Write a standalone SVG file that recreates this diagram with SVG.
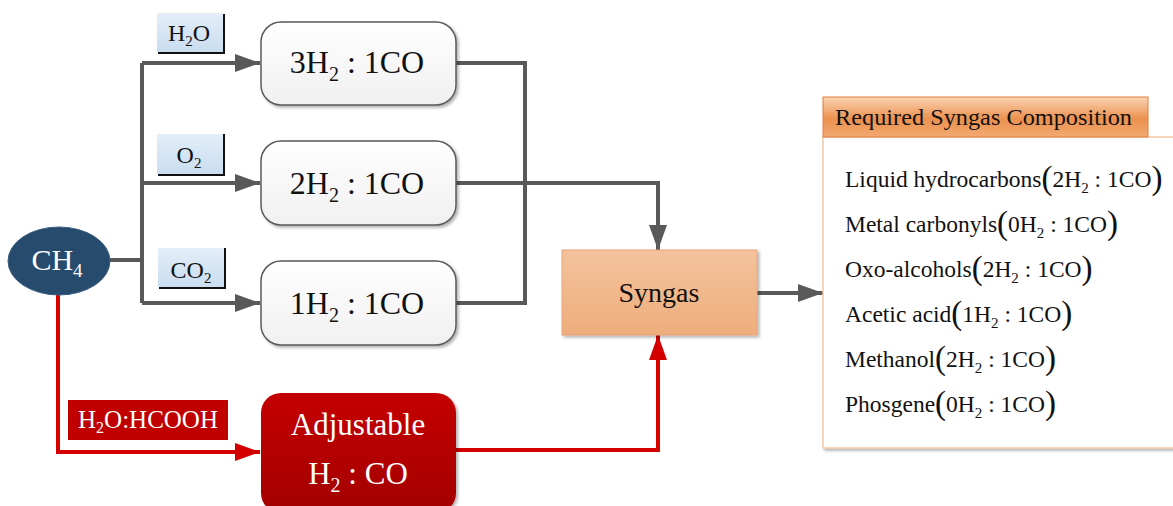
<svg xmlns="http://www.w3.org/2000/svg" width="1173" height="506" viewBox="0 0 1173 506">
<defs>
<linearGradient id="gBox" x1="0" y1="0" x2="0" y2="1"><stop offset="0" stop-color="#ffffff"/><stop offset="1" stop-color="#f0f0f0"/></linearGradient>
<linearGradient id="gLab" x1="0" y1="0" x2="0" y2="1"><stop offset="0" stop-color="#e3eef8"/><stop offset="1" stop-color="#c9ddf0"/></linearGradient>
<linearGradient id="gRed" x1="0" y1="0" x2="0" y2="1"><stop offset="0" stop-color="#c40000"/><stop offset="1" stop-color="#a30000"/></linearGradient>
<linearGradient id="gSyn" x1="0" y1="0" x2="0" y2="1"><stop offset="0" stop-color="#f3c29c"/><stop offset="1" stop-color="#eeae7c"/></linearGradient>
<linearGradient id="gHead" x1="0" y1="0" x2="0" y2="1"><stop offset="0" stop-color="#f9d3b2"/><stop offset="0.55" stop-color="#ec914f"/><stop offset="1" stop-color="#f2a972"/></linearGradient>
<filter id="sh" x="-10%" y="-10%" width="130%" height="130%"><feDropShadow dx="2" dy="2" stdDeviation="1.5" flood-color="#000" flood-opacity="0.3"/></filter>
<marker id="ag" viewBox="0 0 25 18" refX="25" refY="9" markerWidth="25" markerHeight="18" markerUnits="userSpaceOnUse" orient="auto"><path d="M0,0 L25,9 L0,18 Z" fill="#595959"/></marker>
<marker id="ar" viewBox="0 0 25 18" refX="25" refY="9" markerWidth="25" markerHeight="18" markerUnits="userSpaceOnUse" orient="auto"><path d="M0,0 L25,9 L0,18 Z" fill="#d40000"/></marker>
</defs>
<style>
text{font-family:"Liberation Serif","Times New Roman",serif;fill:#111}
.box{fill:url(#gBox);stroke:#5a5a5a;stroke-width:1.5;filter:url(#sh)}
.g{fill:none;stroke:#595959;stroke-width:4}
.r{fill:none;stroke:#d40000;stroke-width:4}
.lab{fill:url(#gLab)}
.lsh{fill:none;stroke:#111;stroke-width:2}
.big{font-size:32px}
.li{font-size:23.5px}
.p{font-size:33px}
.w{fill:#fff}
</style>
<g id="connectors">
<polyline class="g" points="108,260 142,260"/>
<polyline class="g" points="142,63 142,303"/>
<polyline class="g" points="142,63 260,63" marker-end="url(#ag)"/>
<polyline class="g" points="142,183 260,183" marker-end="url(#ag)"/>
<polyline class="g" points="142,303 260,303" marker-end="url(#ag)"/>
<polyline class="g" points="456,63 525,63 525,303 456,303"/>
<polyline class="g" points="456,183 658,183 658,250" marker-end="url(#ag)"/>
<polyline class="g" points="755,293 823,293" marker-end="url(#ag)"/>
<polyline class="r" points="58,294 58,452 260,452" marker-end="url(#ar)"/>
<polyline class="r" points="456,450 658,450 658,335" marker-end="url(#ar)"/>
</g>
<g id="ch4">
<ellipse cx="59" cy="261" rx="51" ry="34" fill="#274b6d" stroke="#3b5f82" stroke-width="1"/>
<text x="57" y="270" font-size="30" text-anchor="middle" class="w">CH<tspan font-size="19" dy="7" class="w">4</tspan></text>
</g>
<g id="label-h2o">
<rect class="lab" x="157" y="13" width="66" height="39"/>
<polyline class="lsh" points="224,14 224,53 158,53"/>
<text x="189" y="41" font-size="24" text-anchor="middle">H<tspan font-size="15" dy="5">2</tspan><tspan dy="-5">O</tspan></text>
</g>
<g id="label-o2">
<rect class="lab" x="157" y="134" width="66" height="40"/>
<polyline class="lsh" points="224,134 224,175 158,175"/>
<text x="189" y="163" font-size="24" text-anchor="middle">O<tspan font-size="15" dy="5">2</tspan></text>
</g>
<g id="label-co2">
<rect class="lab" x="158" y="248" width="66" height="39"/>
<polyline class="lsh" points="225,248 225,288 159,288"/>
<text x="191" y="278" font-size="24" text-anchor="middle">CO<tspan font-size="15" dy="5">2</tspan></text>
</g>
<g id="label-hcooh">
<rect x="68" y="400" width="160" height="40" fill="#c00000"/>
<text x="148" y="428" font-size="25" text-anchor="middle" class="w">H<tspan font-size="16" dy="5" class="w">2</tspan><tspan dy="-5" class="w">O:HCOOH</tspan></text>
</g>
<g id="box-3h2">
<rect class="box" x="261" y="22" width="195" height="83" rx="20"/>
<text class="big" x="357" y="73" text-anchor="middle">3H<tspan font-size="20" dy="8">2</tspan><tspan dy="-8"> : 1CO</tspan></text>
</g>
<g id="box-2h2">
<rect class="box" x="261" y="141" width="195" height="84" rx="20"/>
<text class="big" x="357" y="194" text-anchor="middle">2H<tspan font-size="20" dy="8">2</tspan><tspan dy="-8"> : 1CO</tspan></text>
</g>
<g id="box-1h2">
<rect class="box" x="261" y="261" width="195" height="84" rx="20"/>
<text class="big" x="357" y="314" text-anchor="middle">1H<tspan font-size="20" dy="8">2</tspan><tspan dy="-8"> : 1CO</tspan></text>
</g>
<g id="box-adjustable">
<rect x="261" y="393" width="195" height="120" rx="20" fill="url(#gRed)" filter="url(#sh)"/>
<text x="358" y="435" font-size="31" text-anchor="middle" class="w">Adjustable</text>
<text x="358" y="484" font-size="31" text-anchor="middle" class="w">H<tspan font-size="20" dy="8" class="w">2</tspan><tspan dy="-8" class="w"> : CO</tspan></text>
</g>
<g id="syngas">
<rect x="562" y="250" width="195" height="85" fill="url(#gSyn)" stroke="#e6a57a" stroke-width="1" filter="url(#sh)"/>
<text x="659" y="302" font-size="28" text-anchor="middle">Syngas</text>
</g>
<g id="composition">
<rect x="823" y="137" width="360" height="311" fill="#fff" stroke="#f5c9a6" stroke-width="1.5" filter="url(#sh)"/>
<rect x="823" y="97" width="325" height="40" fill="url(#gHead)" stroke="#de7f3f" stroke-width="1"/>
<text x="835" y="125" font-size="23" textLength="297" lengthAdjust="spacingAndGlyphs">Required Syngas Composition</text>
<text class="li" x="845" y="187">Liquid hydrocarbons<tspan class="p" dy="2">(</tspan><tspan dy="-2">2H</tspan><tspan font-size="15" dy="6">2</tspan><tspan dy="-6"> : 1CO</tspan><tspan class="p" dy="2">)</tspan></text>
<text class="li" x="845" y="232">Metal carbonyls<tspan class="p" dy="2">(</tspan><tspan dy="-2">0H</tspan><tspan font-size="15" dy="6">2</tspan><tspan dy="-6"> : 1CO</tspan><tspan class="p" dy="2">)</tspan></text>
<text class="li" x="845" y="277">Oxo-alcohols<tspan class="p" dy="2">(</tspan><tspan dy="-2">2H</tspan><tspan font-size="15" dy="6">2</tspan><tspan dy="-6"> : 1CO</tspan><tspan class="p" dy="2">)</tspan></text>
<text class="li" x="845" y="322">Acetic acid<tspan class="p" dy="2">(</tspan><tspan dy="-2">1H</tspan><tspan font-size="15" dy="6">2</tspan><tspan dy="-6"> : 1CO</tspan><tspan class="p" dy="2">)</tspan></text>
<text class="li" x="845" y="367">Methanol<tspan class="p" dy="2">(</tspan><tspan dy="-2">2H</tspan><tspan font-size="15" dy="6">2</tspan><tspan dy="-6"> : 1CO</tspan><tspan class="p" dy="2">)</tspan></text>
<text class="li" x="845" y="412">Phosgene<tspan class="p" dy="2">(</tspan><tspan dy="-2">0H</tspan><tspan font-size="15" dy="6">2</tspan><tspan dy="-6"> : 1CO</tspan><tspan class="p" dy="2">)</tspan></text>
</g>
</svg>
